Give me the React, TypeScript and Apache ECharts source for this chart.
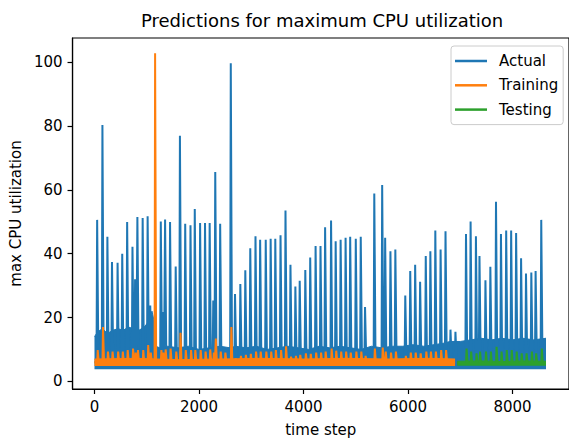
import React, { useEffect, useRef } from "react";
import * as echarts from "echarts";

// ---- data ----
const xTicks = [0, 2000, 4000, 6000, 8000];
const yTicks = [0, 20, 40, 60, 80, 100];

// Actual: spikes (time step, value)
const actualSpikeX = [57, 158, 253, 341, 448, 537, 631, 733, 783, 827, 928, 1023, 1073, 1275, 1313, 1357, 1452, 1560, 1641, 1742, 1843, 1925, 2027, 2121, 2210, 2279, 2317, 2411, 2614, 2695, 2797, 2892, 2987, 3087, 3176, 3283, 3377, 3466, 3566, 3661, 3756, 3850, 3933, 4040, 4134, 4237, 4331, 4419, 4533, 4621, 4716, 4811, 4899, 5006, 5101, 5183, 5360, 5511, 5568, 5669, 5763, 5953, 6048, 6142, 6237, 6345, 6433, 6528, 6629, 6723, 6818, 6913, 7115, 7203, 7305, 7373, 7487, 7581, 7689, 7784, 7884, 7979, 8074, 8169, 8263, 8365, 8447, 8555];
const actualSpikeY = [50.6, 80.3, 45.3, 37.4, 37.2, 40, 49.9, 42.2, 32, 51.5, 51.2, 51.7, 23.8, 50.1, 21.7, 50.7, 49.9, 36, 77, 49.4, 48.9, 54, 49.6, 49.6, 49.6, 25.3, 65.6, 49.4, 99.7, 27.4, 30.5, 34.8, 41.7, 45.5, 44.4, 44.4, 44.7, 44.7, 45.8, 53.5, 36.5, 29.7, 31.5, 34.9, 38.8, 42.4, 42.4, 48.3, 50.4, 43.9, 44.4, 45, 45.3, 44.7, 45.3, 23.3, 58.9, 61.5, 45, 40.8, 41.3, 26.9, 34.6, 36.5, 31.2, 39.3, 40.8, 47.3, 41.3, 47, 16.2, 15.5, 46.2, 50.1, 45.5, 39.3, 31.7, 35.9, 56.3, 46.2, 47.3, 47.3, 46.5, 38.6, 33.8, 34.1, 34.6, 50.6];
// Actual: dense band upper envelope
const actualBandX = [0, 60, 150, 250, 350, 450, 550, 650, 750, 850, 950, 1050, 1100, 1140, 1170, 1250, 1400, 1600, 1800, 2000, 2200, 2400, 2600, 2700, 2900, 3100, 3300, 3500, 3700, 3900, 4100, 4300, 4500, 4700, 4900, 5100, 5300, 5500, 5700, 5900, 6100, 6300, 6500, 6700, 6800, 6900, 7000, 7200, 7400, 7600, 7800, 8000, 8200, 8400, 8640];
const actualBandTop = [14, 15.5, 16.5, 15, 16, 16.5, 16, 17, 16.5, 16, 17, 19, 22, 19, 11, 10.5, 11, 10.5, 11, 10, 10.5, 11, 10.5, 11, 10.5, 11, 10, 10.5, 11, 10.5, 10, 11, 10.5, 11, 10.5, 10, 11, 10.5, 11, 11, 11.5, 11, 11.5, 12, 12.5, 12.5, 12.5, 13, 13.5, 13, 13.5, 13, 13.5, 13, 13.5];

// Training
const trainingSpikeX = [67, 168, 263, 351, 458, 547, 641, 743, 793, 837, 938, 1033, 1083, 1165, 1285, 1323, 1367, 1462, 1570, 1651, 1752, 1853, 1935, 2037, 2131, 2220, 2289, 2327, 2421, 2510, 2624, 2705, 2807, 2902, 2997, 3097, 3186, 3293, 3387, 3476, 3576, 3671, 3766, 3860, 3943, 4050, 4144, 4247, 4341, 4429, 4543, 4631, 4726, 4821, 4909, 5016, 5111, 5193, 5370, 5521, 5578, 5679, 5773, 5963, 6058, 6152, 6247, 6355, 6443, 6538, 6639, 6733];
const trainingSpikeY = [9.8, 17, 9.3, 9.3, 9.3, 9.3, 9.8, 10.3, 9, 9.8, 9.8, 11.4, 9, 102.8, 9.8, 9, 10, 10.3, 9.3, 15.2, 9.8, 9.8, 9.8, 9.8, 9.3, 10, 9, 13.4, 9.3, 9, 17, 7.2, 8, 8.3, 8.6, 9.3, 9.3, 9.3, 9.3, 9.8, 9.8, 11, 7.75, 8, 8.3, 8.8, 8.6, 9, 9, 9.3, 10.3, 9.6, 9.3, 9.3, 9, 9.3, 9.3, 8, 10.3, 10.6, 9.3, 9, 9.3, 8, 9, 9, 8.8, 9.3, 9.3, 9.3, 9.8, 9.8];
const trainingBandX = [0, 800, 1600, 2400, 3200, 4000, 4800, 5600, 6400, 6900];
const trainingBandTop = [7, 7.2, 6.8, 7, 7.2, 7, 7.2, 7, 7.2, 7];

// Testing
const testingSpikeX = [7125, 7213, 7315, 7383, 7497, 7591, 7699, 7794, 7894, 7989, 8084, 8179, 8273, 8375, 8457, 8565];
const testingSpikeY = [10.3, 9.3, 8.8, 9.3, 9.3, 9.3, 10.8, 9.3, 9.8, 9.8, 9.3, 8.8, 8.8, 9.3, 8.8, 10.3];
const testingBandX = [6940, 7400, 7800, 8200, 8640];
const testingBandTop = [6.3, 6.4, 6.2, 6.4, 6.3];

const BLUE = "#1f77b4";
const ORANGE = "#ff7f0e";
const GREEN = "#2ca02c";
const FONT = "DejaVu Sans";

function zip(xs: number[], ys: number[]) {
  return xs.map((x, i) => [x, ys[i]]);
}

function spikeLine(xs: number[], ys: number[], base: number, start: number, end: number, half: number) {
  const out: number[][] = [[start, base]];
  xs.forEach((x, i) => {
    out.push([x - half, base], [x - half / 3, ys[i]], [x + half / 3, ys[i]], [x + half, base]);
  });
  out.push([end, base]);
  return out;
}

export default function App() {
  const ref = useRef<HTMLDivElement>(null);
  useEffect(() => {
    if (!ref.current) return;
    const chart = echarts.init(ref.current, undefined, { renderer: "svg" });
    const band = (name: string, color: string, data: number[][], origin: number, z: number) => ({
      name,
      type: "line",
      data,
      color,
      symbol: "none",
      showSymbol: false,
      lineStyle: { color, width: 1 },
      areaStyle: { color, opacity: 1, origin },
      z,
      silent: true,
    });
    const spikes = (name: string, color: string, data: number[][], width: number, z: number) => ({
      name,
      type: "line",
      data,
      color,
      symbol: "none",
      showSymbol: false,
      lineStyle: { color, width, join: "miter" },
      z,
      silent: true,
    });
    const fmt = (v: number) => String(v);
    chart.setOption({
      animation: false,
      backgroundColor: "#fff",
      title: {
        text: "Predictions for maximum CPU utilization",
        left: 141,
        top: 11,
        padding: 0,
        textStyle: { fontFamily: FONT, fontSize: 18, fontWeight: "normal", color: "#000" },
      },
      legend: {
        orient: "vertical",
        left: 451,
        top: 46,
        padding: [6, 5, 6, 4],
        itemGap: 6.3,
        itemWidth: 32,
        itemHeight: 2.5,
        icon: "rect",
        borderColor: "#cccccc",
        borderWidth: 1,
        borderRadius: 3,
        backgroundColor: "rgba(255,255,255,0.8)",
        textStyle: { fontFamily: FONT, fontSize: 15, color: "#000", lineHeight: 18, padding: [0, 0, 0, 7] },
        data: ["Actual", "Training", "Testing"],
      },
      grid: {
        left: 72,
        top: 38,
        width: 502,
        height: 355,
        show: true,
        borderColor: "#000",
        borderWidth: 1.2,
        containLabel: false,
      },
      xAxis: {
        type: "value",
        min: -420,
        max: 9080,
        name: "time step",
        nameLocation: "middle",
        nameGap: 33,
        nameTextStyle: { fontFamily: FONT, fontSize: 15, color: "#000" },
        axisLine: { show: true, onZero: false, lineStyle: { color: "#000", width: 1.2 } },
        axisTick: { show: true, length: 5, customValues: xTicks, lineStyle: { color: "#000", width: 1.2 } },
        axisLabel: { customValues: xTicks, formatter: fmt, fontFamily: FONT, fontSize: 15, color: "#000", margin: 10 },
        splitLine: { show: false },
      },
      yAxis: {
        type: "value",
        min: -2.4,
        max: 107.6,
        name: "max CPU utilization",
        nameLocation: "middle",
        nameGap: 45,
        nameRotate: 90,
        nameTextStyle: { fontFamily: FONT, fontSize: 15, color: "#000" },
        axisLine: { show: true, onZero: false, lineStyle: { color: "#000", width: 1.2 } },
        axisTick: { show: true, length: 5, customValues: yTicks, lineStyle: { color: "#000", width: 1.2 } },
        axisLabel: { customValues: yTicks, formatter: fmt, fontFamily: FONT, fontSize: 15, color: "#000", margin: 10 },
        splitLine: { show: false },
      },
      series: [
        band("Actual", BLUE, zip(actualBandX, actualBandTop), 3.8, 1),
        spikes("Actual", BLUE, spikeLine(actualSpikeX, actualSpikeY, 6, 0, 8640, 18), 2, 2),
        band("Training", ORANGE, zip(trainingBandX, trainingBandTop), 4.8, 3),
        spikes("Training", ORANGE, spikeLine(trainingSpikeX, trainingSpikeY, 6, 0, 6900, 15), 2, 4),
        band("Testing", GREEN, zip(testingBandX, testingBandTop), 4.9, 5),
        spikes("Testing", GREEN, spikeLine(testingSpikeX, testingSpikeY, 5.6, 6940, 8640, 15), 2, 6),
      ],
    });
    return () => chart.dispose();
  }, []);
  return <div ref={ref} style={{ width: 569, height: 442, position: "absolute", left: 0, top: 0 }} />;
}
